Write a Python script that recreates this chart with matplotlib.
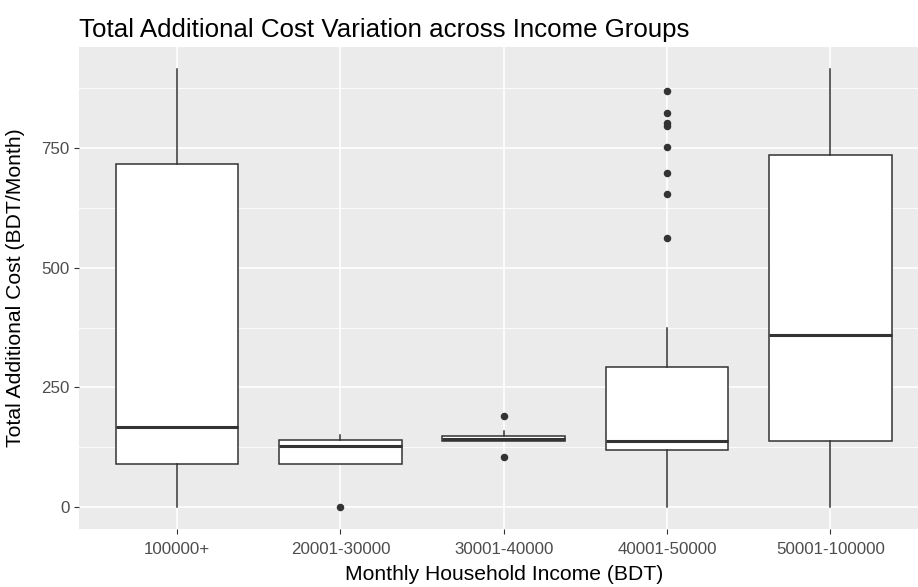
import matplotlib
matplotlib.use("Agg")
import matplotlib.pyplot as plt
from matplotlib.ticker import MultipleLocator

plt.rcParams["font.family"] = ["Liberation Sans", "DejaVu Sans"]

# Income groups and five-number summaries of total additional cost (BDT/month)
groups = ["100000+", "20001-30000", "30001-40000", "40001-50000", "50001-100000"]
whisker_low = [0, 90, 137, 0, 0]
q1 = [90, 90, 137, 119, 137]
median = [168, 128, 142, 138, 360]
q3 = [717, 140, 149, 293, 735]
whisker_high = [915, 150, 158, 373, 915]
outliers = [
    [],
    [0],
    [104, 191],
    [562, 654, 697, 751, 796, 803, 822, 869],
    [],
]

title = "Total Additional Cost Variation across Income Groups"
xlabel = "Monthly Household Income (BDT)"
ylabel = "Total Additional Cost (BDT/Month)"

W, H, DPI = 918, 587, 100
fig = plt.figure(figsize=(W / DPI, H / DPI), dpi=DPI, facecolor="white")

# panel in pixel units (the right side runs past the canvas edge)
pl, pr, pt, pb = 79, 928.5, 47, 529
ax = fig.add_axes([pl / W, 1 - pb / H, (pr - pl) / W, (pb - pt) / H])
ax.set_facecolor("#EBEBEB")
for s in ax.spines.values():
    s.set_visible(False)

stats = []
for i, g in enumerate(groups):
    stats.append(dict(label=g, whislo=whisker_low[i], q1=q1[i], med=median[i],
                      q3=q3[i], whishi=whisker_high[i], fliers=outliers[i]))

line_c = "#333333"
ax.bxp(
    stats,
    positions=range(1, len(groups) + 1),
    widths=0.75,
    patch_artist=True,
    showcaps=False,
    boxprops=dict(facecolor="white", edgecolor=line_c, linewidth=1.1),
    medianprops=dict(color=line_c, linewidth=2.2),
    whiskerprops=dict(color=line_c, linewidth=1.1),
    flierprops=dict(marker="o", markerfacecolor=line_c, markeredgecolor=line_c,
                    markersize=4.4, linestyle="none"),
    zorder=3,
)

ymax = max(max(whisker_high), max(max(o) for o in outliers if o))
ymin = min(min(whisker_low), min(min(o) for o in outliers if o))
pad = 0.05 * (ymax - ymin)
ax.set_ylim(ymin - pad, ymax + pad)
ax.set_xlim(0.4, len(groups) + 0.6)

ax.yaxis.set_major_locator(MultipleLocator(250))
ax.yaxis.set_minor_locator(MultipleLocator(125))
ax.grid(which="major", color="white", linewidth=1.2, zorder=0)
ax.grid(which="minor", axis="y", color="white", linewidth=0.6, zorder=0)
ax.set_axisbelow(True)

ax.set_xticks(range(1, len(groups) + 1))
ax.set_xticklabels(groups)
ax.tick_params(axis="both", which="major", length=3.8, width=0.8, color="#333333",
               labelcolor="#4D4D4D", labelsize=12.2, pad=3)
ax.tick_params(axis="x", which="major", pad=5.5)
ax.tick_params(axis="y", which="minor", length=0)

fig.text(pl / W, 1 - 37 / H, title, fontsize=18.6, color="black",
         ha="left", va="baseline")
fig.text((pl + pr) / 2 / W, 1 - 580 / H, xlabel, fontsize=15.2, color="black",
         ha="center", va="baseline")
fig.text(16 / W, 1 - (pt + pb) / 2 / H, ylabel, fontsize=15.2, color="black",
         ha="center", va="center", rotation=90)

fig.savefig("out.png", dpi=DPI, facecolor="white")
